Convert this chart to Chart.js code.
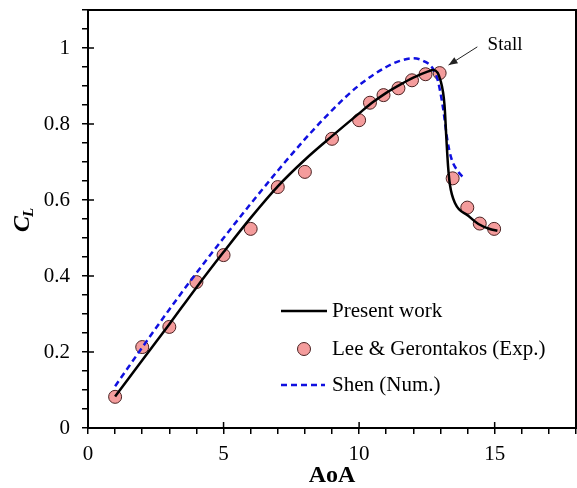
<!DOCTYPE html>
<html>
<head>
<meta charset="utf-8">
<script src="https://cdn.jsdelivr.net/npm/chart.js@4.4.1/dist/chart.umd.min.js"></script>
<style>
  html, body { margin: 0; padding: 0; background: #fff; }
  #wrap { width: 577px; height: 488px; }
</style>
</head>
<body>
<div id="wrap"><canvas id="liftChart" width="577" height="488"></canvas></div>
<script>
// Present work (solid black)
const presentAoA = [1, 2, 3, 4, 5, 6, 7, 8, 9, 10, 10.5, 11, 11.5, 12, 12.5, 12.75, 13.0, 13.15, 13.22, 13.28, 13.35, 13.55, 14, 14.4, 14.85, 15.1];
const presentCL  = [0.083, 0.178, 0.273, 0.37, 0.463, 0.553, 0.636, 0.706, 0.768, 0.828, 0.857, 0.882, 0.903, 0.922, 0.937, 0.942, 0.915, 0.85, 0.76, 0.69, 0.64, 0.59, 0.56, 0.537, 0.523, 0.519];

// Lee & Gerontakos experiment (markers)
const expAoA = [1, 2, 3, 4, 5, 6, 7, 8, 9, 10, 10.4, 10.9, 11.45, 11.95, 12.45, 12.97, 13.45, 13.99, 14.45, 14.98];
const expCL  = [0.082, 0.213, 0.266, 0.384, 0.455, 0.524, 0.634, 0.674, 0.761, 0.81, 0.856, 0.876, 0.894, 0.915, 0.931, 0.934, 0.657, 0.58, 0.538, 0.524];

// Shen numerical (dashed blue)
const shenAoA = [1, 2, 3, 4, 5, 6, 7, 8, 9, 10, 11, 11.5, 12, 12.4, 12.7, 12.9, 13.1, 13.25, 13.4, 13.65, 13.87];
const shenCL  = [0.11, 0.212, 0.312, 0.408, 0.5, 0.59, 0.677, 0.76, 0.836, 0.902, 0.95, 0.966, 0.973, 0.965, 0.948, 0.915, 0.84, 0.76, 0.71, 0.675, 0.657];

const xMajorTicks = [0, 5, 10, 15];
const yMajorTicks = [0, 0.2, 0.4, 0.6, 0.8, 1];

// stall annotation, in data units
const stallTip = [13.3, 0.955];
const stallTail = [14.36, 1.003];
const stallText = [14.74, 1.008];

const serif = "'Liberation Serif', 'Times New Roman', serif";

function toPoints(xs, ys) {
    return xs.map((x, i) => ({ x: x, y: ys[i] }));
}

function isMultiple(v, step) {
    const r = v / step;
    return Math.abs(r - Math.round(r)) < 1e-6;
}

// frame, inner half of major ticks, y title, legend, stall arrow
const extrasPlugin = {
    id: 'extras',
    afterDraw(chart) {
        const ctx = chart.ctx;
        const area = chart.chartArea;
        const xs = chart.scales.x;
        const ys = chart.scales.y;
        ctx.save();

        ctx.strokeStyle = '#000';
        ctx.lineWidth = 2;
        ctx.strokeRect(area.left, area.top, area.right - area.left, area.bottom - area.top);

        ctx.lineWidth = 1.5;
        ctx.beginPath();
        xMajorTicks.forEach(v => {
            const px = xs.getPixelForValue(v);
            ctx.moveTo(px, area.bottom);
            ctx.lineTo(px, area.bottom - 6);
        });
        yMajorTicks.forEach(v => {
            const py = ys.getPixelForValue(v);
            ctx.moveTo(area.left, py);
            ctx.lineTo(area.left + 6, py);
        });
        ctx.stroke();

        // y axis title C_L
        ctx.save();
        ctx.translate(29, 232);
        ctx.rotate(-Math.PI / 2);
        ctx.fillStyle = '#000';
        ctx.textBaseline = 'alphabetic';
        ctx.textAlign = 'left';
        ctx.font = 'italic bold 24px ' + serif;
        ctx.fillText('C', 0, 0);
        const cw = ctx.measureText('C').width;
        ctx.font = 'italic bold 15px ' + serif;
        ctx.fillText('L', cw - 1, 4);
        ctx.restore();

        // legend
        const ds = chart.data.datasets;
        const lx = area.left + 193;
        const rows = [area.top + 301, area.top + 339, area.top + 375];
        ctx.font = '21px ' + serif;
        ctx.textBaseline = 'middle';
        ctx.fillStyle = '#000';

        ctx.strokeStyle = ds[0].borderColor;
        ctx.lineWidth = ds[0].borderWidth;
        ctx.setLineDash([]);
        ctx.beginPath();
        ctx.moveTo(lx, rows[0]);
        ctx.lineTo(lx + 46, rows[0]);
        ctx.stroke();
        ctx.fillText(ds[0].label, lx + 51, rows[0]);

        ctx.beginPath();
        ctx.arc(lx + 23, rows[1], ds[2].pointRadius, 0, Math.PI * 2);
        ctx.fillStyle = ds[2].pointBackgroundColor;
        ctx.fill();
        ctx.lineWidth = ds[2].pointBorderWidth;
        ctx.strokeStyle = ds[2].pointBorderColor;
        ctx.stroke();
        ctx.fillStyle = '#000';
        ctx.fillText(ds[2].label, lx + 51, rows[1]);

        ctx.strokeStyle = ds[1].borderColor;
        ctx.lineWidth = ds[1].borderWidth;
        ctx.setLineDash(ds[1].borderDash);
        ctx.beginPath();
        ctx.moveTo(lx, rows[2]);
        ctx.lineTo(lx + 44, rows[2]);
        ctx.stroke();
        ctx.setLineDash([]);
        ctx.fillText(ds[1].label, lx + 51, rows[2]);

        // stall arrow
        const tx = xs.getPixelForValue(stallTip[0]), ty = ys.getPixelForValue(stallTip[1]);
        const sx = xs.getPixelForValue(stallTail[0]), sy = ys.getPixelForValue(stallTail[1]);
        const ang = Math.atan2(ty - sy, tx - sx);
        ctx.strokeStyle = '#222';
        ctx.fillStyle = '#222';
        ctx.lineWidth = 1;
        ctx.beginPath();
        ctx.moveTo(sx, sy);
        ctx.lineTo(tx, ty);
        ctx.stroke();
        ctx.beginPath();
        ctx.moveTo(tx, ty);
        ctx.lineTo(tx - 9 * Math.cos(ang) + 3.5 * Math.sin(ang), ty - 9 * Math.sin(ang) - 3.5 * Math.cos(ang));
        ctx.lineTo(tx - 9 * Math.cos(ang) - 3.5 * Math.sin(ang), ty - 9 * Math.sin(ang) + 3.5 * Math.cos(ang));
        ctx.closePath();
        ctx.fill();

        ctx.fillStyle = '#000';
        ctx.font = '19px ' + serif;
        ctx.textAlign = 'left';
        ctx.fillText('Stall', xs.getPixelForValue(stallText[0]), ys.getPixelForValue(stallText[1]));

        ctx.restore();
    }
};

function createLiftChart() {
    const ctx = document.getElementById('liftChart').getContext('2d');
    new Chart(ctx, {
        type: 'line',
        data: {
            datasets: [{
                label: 'Present work',
                data: toPoints(presentAoA, presentCL),
                borderColor: '#000',
                borderWidth: 2.5,
                pointRadius: 0,
                cubicInterpolationMode: 'monotone',
                fill: false,
                order: 0
            }, {
                label: 'Shen (Num.)',
                data: toPoints(shenAoA, shenCL),
                borderColor: '#1010e0',
                borderWidth: 2.5,
                borderDash: [6, 4],
                pointRadius: 0,
                cubicInterpolationMode: 'monotone',
                fill: false,
                order: 1
            }, {
                label: 'Lee & Gerontakos (Exp.)',
                data: toPoints(expAoA, expCL),
                showLine: false,
                pointRadius: 6.5,
                pointBackgroundColor: '#f49c9c',
                pointBorderColor: '#4a2222',
                pointBorderWidth: 1,
                order: 2
            }]
        },
        options: {
            responsive: false,
            animation: false,
            layout: { autoPadding: false, padding: { top: 10, right: 1, left: 0, bottom: 0 } },
            plugins: {
                legend: { display: false },
                tooltip: { enabled: false }
            },
            scales: {
                x: {
                    type: 'linear',
                    min: 0,
                    max: 18,
                    afterFit: s => {
                        s.height = 60;
                        s.paddingLeft = 0;
                        s.paddingRight = 0;
                    },
                    border: { color: '#000', width: 2 },
                    grid: { drawOnChartArea: false, color: '#000', lineWidth: 1.5, tickLength: 6 },
                    ticks: {
                        stepSize: 1,
                        autoSkip: false,
                        maxRotation: 0,
                        padding: 8,
                        color: '#000',
                        font: { family: serif, size: 21 },
                        callback: v => (isMultiple(v, 5) && v < 18 ? String(Math.round(v)) : '')
                    },
                    title: {
                        display: true,
                        text: 'AoA',
                        color: '#000',
                        font: { family: serif, size: 24, weight: 'bold', lineHeight: 1 },
                        padding: { top: 0, bottom: 0 }
                    }
                },
                y: {
                    min: 0,
                    max: 1.1,
                    afterFit: s => {
                        s.width = 88;
                        s.paddingTop = 0;
                        s.paddingBottom = 0;
                    },
                    border: { color: '#000', width: 2 },
                    grid: { drawOnChartArea: false, color: '#000', lineWidth: 1.5, tickLength: 6 },
                    ticks: {
                        stepSize: 0.05,
                        autoSkip: false,
                        padding: 12,
                        color: '#000',
                        font: { family: serif, size: 21 },
                        callback: v => (isMultiple(v, 0.2) ? String(Math.round(v * 10) / 10) : '')
                    }
                }
            }
        },
        plugins: [extrasPlugin]
    });
}

createLiftChart();
</script>
</body>
</html>
